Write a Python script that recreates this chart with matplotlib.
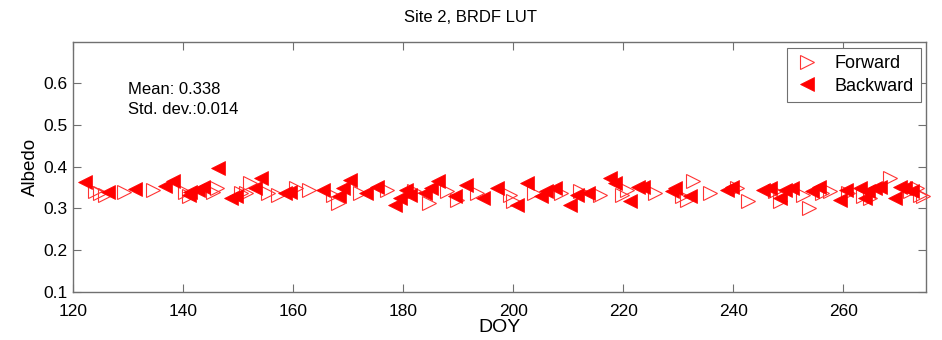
import matplotlib
matplotlib.use("Agg")
import matplotlib.pyplot as plt

plt.rcParams['font.family'] = ['Liberation Sans', 'DejaVu Sans']

# Forward-scattering retrievals (DOY, albedo)
fwd_doy = [124.0, 124.9, 125.8, 129.3, 134.5, 140.3, 141.0, 145.5, 146.1, 150.6,
           152.1, 151.5, 155.4, 157.3, 160.6, 162.8, 167.2, 168.2, 172.1, 177.0,
           181.9, 184.6, 188.0, 189.8, 193.4, 199.4, 200.0, 203.7, 208.6, 212.1,
           215.8, 219.7, 220.6, 225.7, 230.6, 231.5, 232.7, 235.8, 240.7, 242.7,
           247.6, 248.5, 252.7, 253.7, 256.1, 257.6, 260.9, 263.6, 264.8, 268.5,
           272.1, 273.3, 273.9, 274.5]
fwd_alb = [0.342, 0.337, 0.333, 0.340, 0.345, 0.340, 0.330, 0.340, 0.348, 0.337,
           0.361, 0.337, 0.337, 0.333, 0.349, 0.345, 0.333, 0.313, 0.337, 0.345,
           0.341, 0.313, 0.341, 0.321, 0.337, 0.333, 0.317, 0.337, 0.337, 0.341,
           0.333, 0.333, 0.345, 0.337, 0.329, 0.321, 0.366, 0.337, 0.349, 0.317,
           0.341, 0.317, 0.333, 0.301, 0.337, 0.341, 0.337, 0.329, 0.325, 0.373,
           0.341, 0.349, 0.333, 0.329]

# Backward-scattering retrievals (DOY, albedo)
bwd_doy = [122.1, 126.4, 131.2, 136.7, 138.2, 141.0, 141.2, 142.8, 143.7, 146.4,
           148.7, 149.6, 153.0, 154.2, 158.5, 159.4, 165.5, 168.4, 169.1, 170.3,
           173.3, 175.2, 178.5, 179.4, 180.6, 181.2, 183.9, 185.1, 186.3, 189.4,
           191.5, 194.5, 197.0, 200.6, 202.5, 205.1, 206.0, 207.6, 210.3, 211.5,
           213.6, 217.6, 218.5, 221.3, 222.7, 223.6, 228.8, 229.4, 232.1, 238.8,
           239.7, 245.4, 246.6, 248.5, 249.4, 250.6, 254.3, 255.5, 259.3, 260.5,
           263.0, 263.9, 264.5, 265.7, 266.6, 269.4, 270.3, 271.2, 272.4]
bwd_alb = [0.363, 0.339, 0.347, 0.353, 0.366, 0.333, 0.339, 0.345, 0.352, 0.397,
           0.325, 0.329, 0.349, 0.373, 0.337, 0.339, 0.345, 0.329, 0.349, 0.369,
           0.337, 0.352, 0.309, 0.325, 0.345, 0.333, 0.337, 0.349, 0.365, 0.329,
           0.357, 0.325, 0.349, 0.309, 0.361, 0.329, 0.341, 0.349, 0.309, 0.333,
           0.337, 0.373, 0.361, 0.317, 0.352, 0.352, 0.341, 0.349, 0.329, 0.345,
           0.352, 0.345, 0.349, 0.325, 0.345, 0.349, 0.341, 0.352, 0.321, 0.345,
           0.349, 0.325, 0.341, 0.349, 0.352, 0.325, 0.352, 0.349, 0.341]

x_ticks = [120, 140, 160, 180, 200, 220, 240, 260]
y_ticks = [0.1, 0.2, 0.3, 0.4, 0.5, 0.6]
y_tick_labels = ['0.1', '0.2', '0.3', '0.4', '0.5', '0.6']

stats_text = "Mean: 0.338\nStd. dev.:0.014"

fig = plt.figure(figsize=(9.42, 3.40), dpi=100)
ax = fig.add_axes([73 / 942, 1 - 292 / 340, (926 - 73) / 942, (292 - 42) / 340])

ax.plot(fwd_doy, fwd_alb, linestyle='none', marker='>', markersize=10,
        markerfacecolor='none', markeredgecolor='#ff3333', markeredgewidth=0.8,
        label='Forward', clip_on=False, zorder=3)
ax.plot(bwd_doy, bwd_alb, linestyle='none', marker='<', markersize=10,
        markerfacecolor='#ff0000', markeredgecolor='#ff0000', markeredgewidth=0.5,
        label='Backward', clip_on=False, zorder=3)

ax.set_xlim(120, 275)
ax.set_ylim(0.1, 0.698)
ax.set_xticks(x_ticks)
ax.set_yticks(y_ticks)
ax.set_yticklabels(y_tick_labels)

spine_color = '#707070'
for s in ax.spines.values():
    s.set_color(spine_color)
    s.set_linewidth(1.0)
ax.tick_params(direction='in', length=6, width=0.8, color=spine_color,
               top=True, right=True, labelcolor='black')
ax.tick_params(axis='y', labelsize=12.5, pad=4)
ax.tick_params(axis='x', labelsize=12.5, pad=9)

ax.set_xlabel('DOY', fontsize=14, labelpad=0)
ax.set_ylabel('Albedo', fontsize=13.5, labelpad=3)
fig.text(0.5, 1 - 18 / 340, 'Site 2, BRDF LUT', ha='center', va='center', fontsize=12)

ax.text(0.064, 0.77, stats_text, transform=ax.transAxes, ha='left', va='center',
        fontsize=12, linespacing=1.35)

leg = ax.legend(loc='upper right', bbox_to_anchor=(0.994, 0.976), borderaxespad=0,
                fontsize=13, frameon=True, fancybox=False, framealpha=1,
                edgecolor=spine_color, handlelength=1.4, handletextpad=0.8,
                borderpad=0.4, labelspacing=0.3)
leg.get_frame().set_linewidth(0.8)

fig.savefig('out.png', dpi=100)
